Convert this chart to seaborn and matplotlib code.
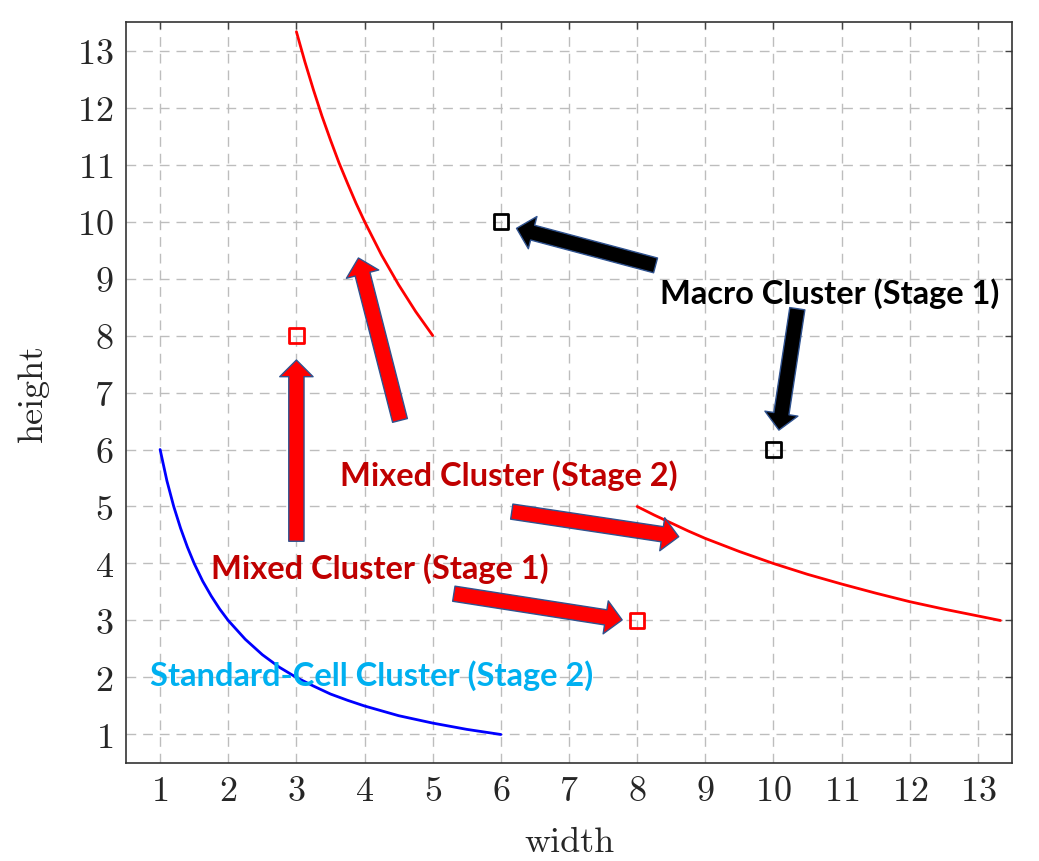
import numpy as np
import pandas as pd
import seaborn as sns
import matplotlib.pyplot as plt
from matplotlib.patches import FancyArrowPatch, ArrowStyle

# curve points
std_x = [1, 1.1, 1.2, 1.3, 1.4, 1.5, 1.625, 1.75, 1.875, 2, 2.25, 2.5, 2.75, 3,
         3.25, 3.5, 3.75, 4, 4.5, 5, 5.5, 6]
std_y = [6, 5.45, 5, 4.62, 4.29, 4, 3.69, 3.43, 3.2, 3, 2.67, 2.4, 2.18, 2,
         1.85, 1.71, 1.6, 1.5, 1.33, 1.2, 1.09, 1]
mix_up_x = [3, 3.125, 3.25, 3.375, 3.5, 3.625, 3.75, 3.875, 4, 4.25, 4.5, 4.75, 5]
mix_up_y = [13.33, 12.8, 12.31, 11.85, 11.43, 11.03, 10.67, 10.32, 10, 9.41, 8.89, 8.42, 8]
mix_lo_x = [8, 8.25, 8.5, 8.75, 9, 9.5, 10, 10.5, 11, 11.5, 12, 12.5, 13, 13.33]
mix_lo_y = [5, 4.85, 4.71, 4.57, 4.44, 4.21, 4, 3.81, 3.64, 3.48, 3.33, 3.2, 3.08, 3]

# stage 1 clusters
mixed_pts_x = [3, 8]
mixed_pts_y = [8, 3]
macro_pts_x = [6, 10]
macro_pts_y = [10, 6]

ticks = list(range(1, 14))

sns.set_theme(style="white")
plt.rcParams["font.family"] = "serif"
plt.rcParams["font.serif"] = ["cmr10"]
plt.rcParams["mathtext.fontset"] = "cm"
plt.rcParams["axes.formatter.use_mathtext"] = True
plt.rcParams["lines.scale_dashes"] = False

fig = plt.figure(figsize=(10.39, 8.62), dpi=100)
ax = fig.add_axes([0.1213, 0.1137, 0.8527, 0.8596])

sns.lineplot(x=std_x, y=std_y, color="#0000ff", lw=2, sort=False, estimator=None, ax=ax)
sns.lineplot(x=mix_up_x, y=mix_up_y, color="#ff0000", lw=2, sort=False, estimator=None, ax=ax)
sns.lineplot(x=mix_lo_x, y=mix_lo_y, color="#ff0000", lw=2, sort=False, estimator=None, ax=ax)
sns.scatterplot(x=mixed_pts_x, y=mixed_pts_y, marker="s", s=110, facecolors="none",
                edgecolor="#ff0000", linewidth=2, ax=ax, zorder=5)
sns.scatterplot(x=macro_pts_x, y=macro_pts_y, marker="s", s=110, facecolors="none",
                edgecolor="black", linewidth=2, ax=ax, zorder=5)

ax.set_xlim(0.5, 13.5)
ax.set_ylim(0.5, 13.5)
ax.set_xticks(ticks)
ax.set_yticks(ticks)
ax.grid(True, color="#bdbdbd", lw=1.0, linestyle=(0, (7, 5)))
ax.set_axisbelow(True)
ax.tick_params(direction="in", top=True, right=True, length=5, width=1,
               color="#444444", labelsize=26, pad=9)
for s in ax.spines.values():
    s.set_color("#333333")
    s.set_linewidth(1.2)

ax.set_xlabel("width", fontsize=26)
ax.set_ylabel("height", fontsize=26)
ax.xaxis.set_label_coords(0.5, -0.085)
ax.yaxis.set_label_coords(-0.087, 0.5)

# block arrows
arrows = [
    ((8.27, 9.23), (6.23, 9.88), "black"),
    ((10.35, 8.47), (10.08, 6.34), "black"),
    ((3.0, 4.39), (3.0, 7.57), "#ff0000"),
    ((4.52, 6.51), (3.91, 9.36), "#ff0000"),
    ((6.16, 4.91), (8.61, 4.47), "#ff0000"),
    ((5.31, 3.47), (7.78, 3.01), "#ff0000"),
]
style = ArrowStyle.Simple(head_length=12, head_width=24, tail_width=11)
for start, end, col in arrows:
    ax.add_patch(FancyArrowPatch(start, end, arrowstyle=style, mutation_scale=1,
                                 shrinkA=0, shrinkB=0, facecolor=col,
                                 edgecolor="#2f528f", lw=1.0, zorder=6))

lab = dict(family="Lato", fontweight="bold", fontsize=23.5, ha="center", va="center", zorder=7)
ax.text(10.82, 8.75, "Macro Cluster (Stage 1)", color="black", **lab)
ax.text(6.11, 5.56, "Mixed Cluster (Stage 2)", color="#c00000", **lab)
ax.text(4.23, 3.93, "Mixed Cluster (Stage 1)", color="#c00000", **lab)
ax.text(4.11, 2.05, "Standard-Cell Cluster (Stage 2)", color="#00b0f0", **lab)

fig.savefig("out.png", dpi=100)
